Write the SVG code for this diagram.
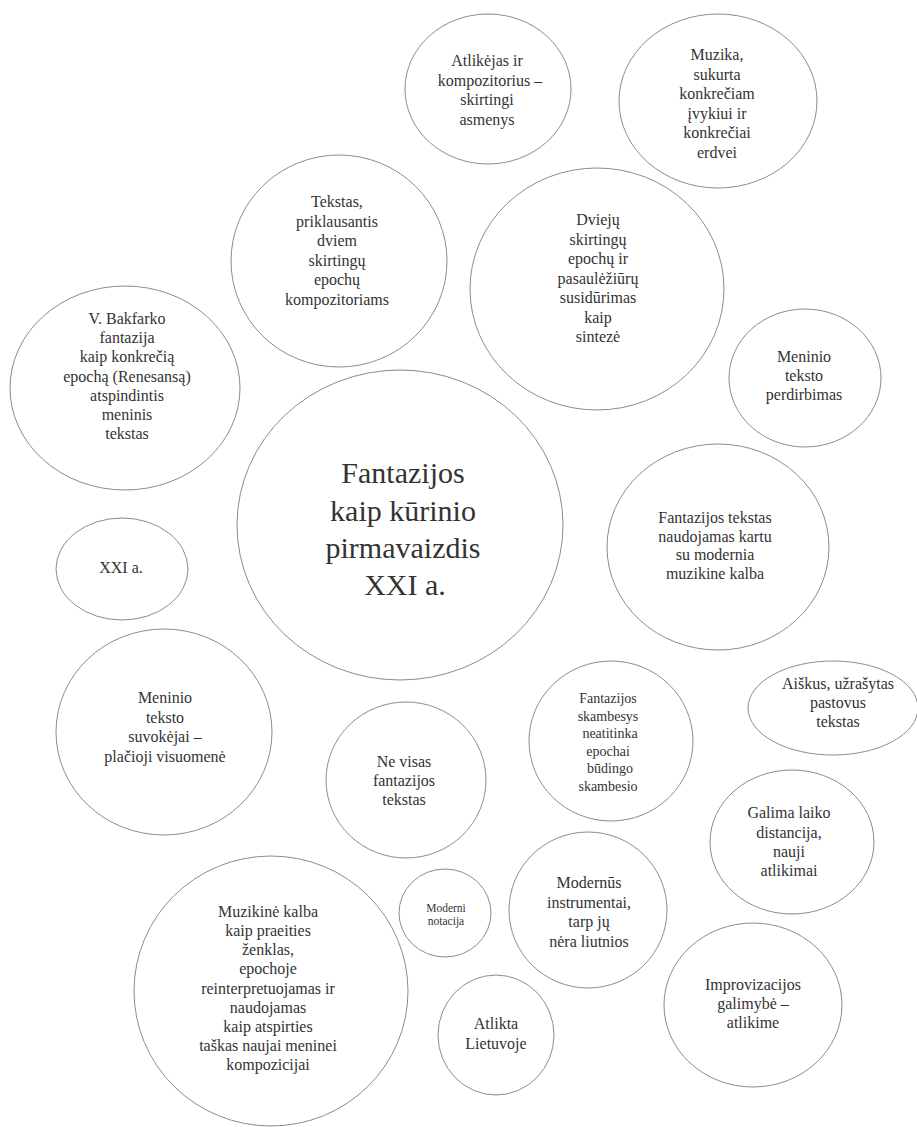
<svg xmlns="http://www.w3.org/2000/svg" width="917" height="1127" viewBox="0 0 917 1127">
<style>
.c{fill:#fff;stroke:#8c8c8c;stroke-width:1}
.t{font-family:"Liberation Serif","DejaVu Serif",serif;font-size:16px;fill:#333;text-anchor:middle}
.big{font-size:30px}
.s14{font-size:14px}
.s11{font-size:11.5px}
</style>
<rect width="917" height="1127" fill="#fff"/>
<g id="connectors"/>
<g id="n-atlikejas"><ellipse class="c" cx="488" cy="89" rx="83" ry="75"/>
<text class="t"><tspan x="487" y="66">Atlikėjas ir</tspan><tspan x="490" y="85.5">kompozitorius –</tspan><tspan x="487" y="105">skirtingi</tspan><tspan x="487" y="124.5">asmenys</tspan></text></g>
<g id="n-muzika"><ellipse class="c" cx="718" cy="101" rx="99" ry="87"/>
<text class="t"><tspan x="717" y="60">Muzika,</tspan><tspan x="717" y="79.5">sukurta</tspan><tspan x="717" y="99">konkrečiam</tspan><tspan x="717" y="118.5">įvykiui ir</tspan><tspan x="717" y="138">konkrečiai</tspan><tspan x="717" y="157.5">erdvei</tspan></text></g>
<g id="n-tekstas"><ellipse class="c" cx="339" cy="261" rx="108" ry="106"/>
<text class="t"><tspan x="337" y="207">Tekstas,</tspan><tspan x="337" y="226.5">priklausantis</tspan><tspan x="337" y="246">dviem</tspan><tspan x="337" y="265.5">skirtingų</tspan><tspan x="337" y="285">epochų</tspan><tspan x="337" y="304.5">kompozitoriams</tspan></text></g>
<g id="n-dvieju"><ellipse class="c" cx="597" cy="289" rx="127" ry="121"/>
<text class="t"><tspan x="598" y="225">Dviejų</tspan><tspan x="598" y="244.5">skirtingų</tspan><tspan x="598" y="264">epochų ir</tspan><tspan x="598" y="283.5">pasaulėžiūrų</tspan><tspan x="598" y="303">susidūrimas</tspan><tspan x="598" y="322.5">kaip</tspan><tspan x="598" y="342">sintezė</tspan></text></g>
<g id="n-bakfarko"><ellipse class="c" cx="125" cy="388" rx="115" ry="102"/>
<text class="t"><tspan x="127" y="324">V. Bakfarko</tspan><tspan x="127" y="343">fantazija</tspan><tspan x="127" y="362">kaip konkrečią</tspan><tspan x="127" y="381.5">epochą (Renesansą)</tspan><tspan x="127" y="401">atspindintis</tspan><tspan x="127" y="420">meninis</tspan><tspan x="127" y="439">tekstas</tspan></text></g>
<g id="n-center"><ellipse class="c" cx="400" cy="525" rx="163" ry="155"/>
<text class="t big"><tspan x="403" y="483">Fantazijos</tspan><tspan x="403" y="521">kaip kūrinio</tspan><tspan x="403" y="558">pirmavaizdis</tspan><tspan x="405" y="595">XXI a.</tspan></text></g>
<g id="n-perdirbimas"><ellipse class="c" cx="805" cy="378" rx="76" ry="69"/>
<text class="t"><tspan x="804" y="362">Meninio</tspan><tspan x="804" y="381">teksto</tspan><tspan x="804" y="400">perdirbimas</tspan></text></g>
<g id="n-kartu"><ellipse class="c" cx="718" cy="547" rx="111" ry="103"/>
<text class="t"><tspan x="715" y="523">Fantazijos tekstas</tspan><tspan x="715" y="541.5">naudojamas kartu</tspan><tspan x="715" y="560">su modernia</tspan><tspan x="715" y="578.5">muzikine kalba</tspan></text></g>
<g id="n-xxi"><ellipse class="c" cx="122" cy="569" rx="66" ry="51"/>
<text class="t"><tspan x="121" y="573">XXI a.</tspan></text></g>
<g id="n-suvokejai"><ellipse class="c" cx="164" cy="732" rx="108" ry="103"/>
<text class="t"><tspan x="165" y="703">Meninio</tspan><tspan x="165" y="722.5">teksto</tspan><tspan x="165" y="742">suvokėjai –</tspan><tspan x="165" y="762">plačioji visuomenė</tspan></text></g>
<g id="n-nevisas"><ellipse class="c" cx="406" cy="780" rx="80" ry="78"/>
<text class="t"><tspan x="404" y="767">Ne visas</tspan><tspan x="404" y="786">fantazijos</tspan><tspan x="404" y="805">tekstas</tspan></text></g>
<g id="n-skambesys"><ellipse class="c" cx="611" cy="741" rx="82" ry="80"/>
<text class="t s14"><tspan x="608" y="703">Fantazijos</tspan><tspan x="608" y="720.5">skambesys</tspan><tspan x="610" y="738">neatitinka</tspan><tspan x="608" y="755.5">epochai</tspan><tspan x="610" y="773">būdingo</tspan><tspan x="608" y="790.5">skambesio</tspan></text></g>
<g id="n-aiskus"><ellipse class="c" cx="833" cy="708" rx="85" ry="47"/>
<text class="t"><tspan x="838" y="689">Aiškus, užrašytas</tspan><tspan x="838" y="708">pastovus</tspan><tspan x="838" y="727">tekstas</tspan></text></g>
<g id="n-galima"><ellipse class="c" cx="792" cy="842" rx="82" ry="72"/>
<text class="t"><tspan x="789" y="818">Galima laiko</tspan><tspan x="789" y="837.5">distancija,</tspan><tspan x="789" y="857">nauji</tspan><tspan x="789" y="876">atlikimai</tspan></text></g>
<g id="n-improvizacijos"><ellipse class="c" cx="753" cy="1005" rx="89" ry="82"/>
<text class="t"><tspan x="753" y="990">Improvizacijos</tspan><tspan x="753" y="1009">galimybė –</tspan><tspan x="753" y="1028">atlikime</tspan></text></g>
<g id="n-modernus"><ellipse class="c" cx="588" cy="910" rx="79" ry="78"/>
<text class="t"><tspan x="589" y="888">Modernūs</tspan><tspan x="589" y="907.5">instrumentai,</tspan><tspan x="589" y="927">tarp jų</tspan><tspan x="589" y="946.5">nėra liutnios</tspan></text></g>
<g id="n-notacija"><ellipse class="c" cx="445" cy="913" rx="46" ry="44"/>
<text class="t s11"><tspan x="446" y="912">Moderni</tspan><tspan x="446" y="925">notacija</tspan></text></g>
<g id="n-lietuvoje"><ellipse class="c" cx="496" cy="1035" rx="58" ry="60"/>
<text class="t"><tspan x="496" y="1029">Atlikta</tspan><tspan x="496" y="1049">Lietuvoje</tspan></text></g>
<g id="n-muzikine"><ellipse class="c" cx="271" cy="991" rx="137" ry="135"/>
<text class="t"><tspan x="268" y="917">Muzikinė kalba</tspan><tspan x="268" y="936">kaip praeities</tspan><tspan x="268" y="955">ženklas,</tspan><tspan x="268" y="974">epochoje</tspan><tspan x="268" y="993.5">reinterpretuojamas ir</tspan><tspan x="268" y="1013">naudojamas</tspan><tspan x="268" y="1032">kaip atspirties</tspan><tspan x="268" y="1051">taškas naujai meninei</tspan><tspan x="268" y="1070">kompozicijai</tspan></text></g>
</svg>
